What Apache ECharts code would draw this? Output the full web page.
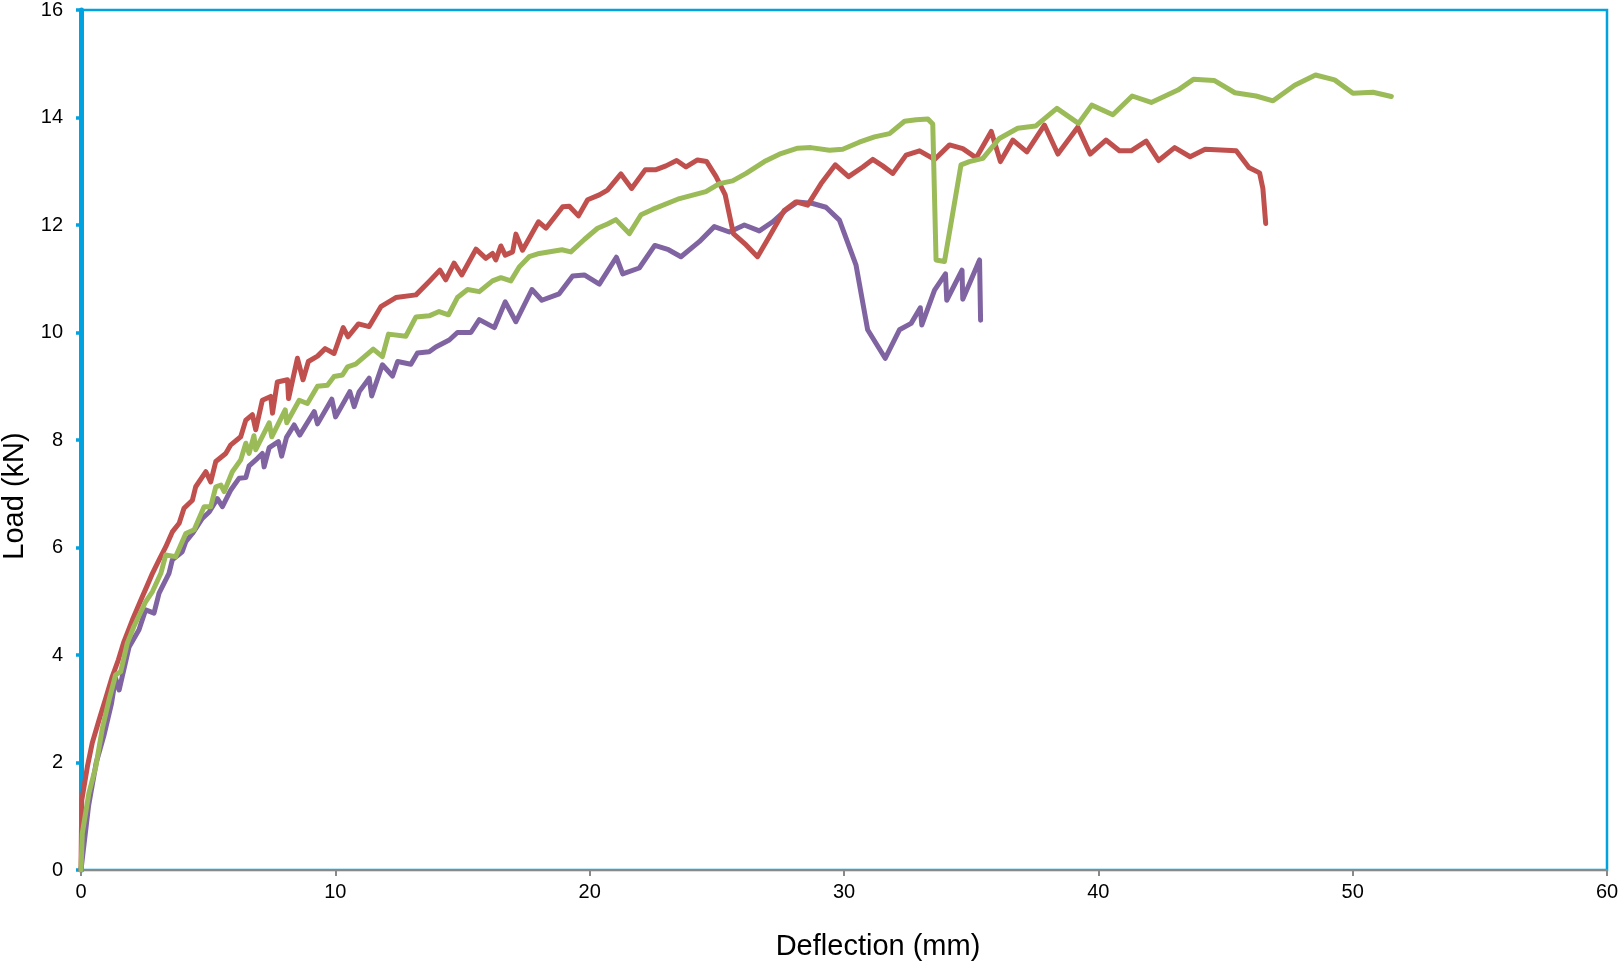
<!DOCTYPE html>
<html>
<head>
<meta charset="utf-8">
<script src="https://cdn.jsdelivr.net/npm/echarts@6/dist/echarts.min.js"></script>
<style>
  html, body { margin: 0; padding: 0; background: #fff; }
  #chart { width: 1618px; height: 965px; }
</style>
</head>
<body>
<div id="chart"></div>
<script>
// deflection (mm) / load (kN)
const redX = [0, 0.03, 0.25, 0.44, 0.71, 0.97, 1.23, 1.47, 1.69, 2.02, 2.35, 2.61, 2.81, 3.07, 3.33, 3.59, 3.86, 4.05, 4.38, 4.51, 4.91, 5.1, 5.3, 5.69, 5.89, 6.28, 6.48, 6.74, 6.87, 7.13, 7.46, 7.53, 7.72, 8.12, 8.16, 8.51, 8.73, 8.94, 9.3, 9.6, 9.95, 10.31, 10.5, 10.91, 11.33, 11.79, 12.38, 13.17, 13.69, 14.11, 14.34, 14.67, 14.97, 15.53, 15.92, 16.18, 16.31, 16.51, 16.68, 16.97, 17.1, 17.36, 17.99, 18.28, 18.94, 19.2, 19.56, 19.92, 20.38, 20.7, 21.23, 21.65, 22.19, 22.61, 23.0, 23.42, 23.79, 24.24, 24.6, 24.97, 25.33, 25.65, 26.15, 26.6, 27.06, 27.65, 28.11, 28.57, 29.1, 29.66, 30.18, 30.74, 31.13, 31.52, 31.92, 32.44, 32.97, 33.56, 34.15, 34.67, 35.2, 35.79, 36.15, 36.64, 37.19, 37.88, 38.41, 39.19, 39.68, 40.3, 40.83, 41.29, 41.88, 42.37, 43.0, 43.61, 44.2, 45.42, 45.92, 46.34, 46.47, 46.58];
const redY = [0, 1.3, 1.92, 2.36, 2.79, 3.19, 3.6, 3.91, 4.25, 4.65, 5.02, 5.3, 5.52, 5.77, 6.01, 6.29, 6.45, 6.73, 6.88, 7.13, 7.41, 7.22, 7.6, 7.75, 7.91, 8.06, 8.37, 8.47, 8.19, 8.74, 8.81, 8.5, 9.08, 9.12, 8.77, 9.52, 9.12, 9.46, 9.56, 9.7, 9.61, 10.09, 9.92, 10.16, 10.11, 10.48, 10.65, 10.7, 10.95, 11.16, 10.98, 11.29, 11.07, 11.55, 11.38, 11.47, 11.35, 11.61, 11.44, 11.5, 11.83, 11.53, 12.06, 11.94, 12.34, 12.35, 12.17, 12.47, 12.56, 12.65, 12.95, 12.68, 13.03, 13.03, 13.1, 13.2, 13.08, 13.21, 13.18, 12.9, 12.56, 11.84, 11.63, 11.41, 11.78, 12.27, 12.43, 12.37, 12.77, 13.12, 12.9, 13.08, 13.22, 13.1, 12.96, 13.3, 13.38, 13.22, 13.49, 13.42, 13.25, 13.74, 13.18, 13.58, 13.36, 13.86, 13.32, 13.82, 13.32, 13.58, 13.38, 13.38, 13.56, 13.2, 13.44, 13.27, 13.41, 13.38, 13.07, 12.97, 12.68, 12.03];

const greenX = [0, 0.05, 0.31, 0.58, 0.84, 1.1, 1.36, 1.56, 1.82, 2.08, 2.54, 2.81, 3.14, 3.33, 3.72, 4.12, 4.45, 4.84, 5.1, 5.3, 5.5, 5.63, 5.95, 6.28, 6.48, 6.61, 6.8, 6.87, 7.4, 7.5, 8.03, 8.09, 8.58, 8.9, 9.3, 9.69, 9.95, 10.28, 10.48, 10.8, 11.49, 11.85, 12.09, 12.77, 13.17, 13.69, 14.08, 14.45, 14.8, 15.2, 15.66, 16.18, 16.51, 16.9, 17.23, 17.62, 18.02, 18.91, 19.26, 19.79, 20.31, 20.7, 21.03, 21.56, 22.02, 22.47, 23.46, 24.57, 25.1, 25.62, 26.15, 26.87, 27.52, 28.18, 28.7, 29.43, 29.95, 30.6, 31.2, 31.79, 32.38, 32.84, 33.3, 33.49, 33.62, 33.95, 34.6, 34.93, 35.46, 36.11, 36.83, 37.53, 38.37, 39.22, 39.74, 40.57, 41.33, 42.08, 43.13, 43.74, 44.55, 45.37, 46.2, 46.87, 47.72, 48.54, 49.29, 50.01, 50.8, 51.52];
const greenY = [0, 0.68, 1.43, 1.92, 2.64, 3.16, 3.63, 3.69, 4.22, 4.53, 4.99, 5.18, 5.52, 5.86, 5.83, 6.26, 6.33, 6.76, 6.76, 7.13, 7.16, 7.04, 7.41, 7.63, 7.94, 7.75, 8.08, 7.82, 8.32, 8.06, 8.56, 8.32, 8.74, 8.68, 9.0, 9.02, 9.18, 9.21, 9.36, 9.41, 9.69, 9.55, 9.97, 9.93, 10.29, 10.31, 10.39, 10.33, 10.65, 10.8, 10.76, 10.96, 11.02, 10.96, 11.22, 11.41, 11.47, 11.54, 11.5, 11.73, 11.94, 12.02, 12.1, 11.84, 12.19, 12.29, 12.48, 12.62, 12.77, 12.82, 12.96, 13.18, 13.33, 13.43, 13.44, 13.39, 13.41, 13.54, 13.64, 13.7, 13.93, 13.96, 13.97, 13.88, 11.35, 11.32, 13.12, 13.18, 13.24, 13.61, 13.8, 13.84, 14.17, 13.89, 14.23, 14.05, 14.4, 14.28, 14.51, 14.71, 14.69, 14.46, 14.4, 14.31, 14.6, 14.79, 14.7, 14.45, 14.47, 14.39];

const purpleX = [0, 0.3, 0.6, 0.9, 1.2, 1.36, 1.5, 1.89, 2.28, 2.54, 2.87, 3.07, 3.46, 3.59, 3.98, 4.12, 4.38, 4.77, 5.04, 5.36, 5.56, 5.89, 6.22, 6.48, 6.61, 6.94, 7.13, 7.2, 7.4, 7.76, 7.89, 8.08, 8.38, 8.6, 9.17, 9.3, 9.86, 10.01, 10.57, 10.74, 10.94, 11.33, 11.43, 11.85, 12.25, 12.45, 12.97, 13.23, 13.69, 13.95, 14.48, 14.8, 15.33, 15.66, 16.25, 16.68, 17.1, 17.73, 18.12, 18.8, 19.33, 19.79, 20.38, 21.05, 21.3, 21.95, 22.56, 23.1, 23.59, 24.31, 24.9, 25.49, 26.08, 26.67, 27.2, 27.72, 28.18, 28.77, 29.29, 29.82, 30.47, 30.93, 31.62, 32.18, 32.64, 33.0, 33.06, 33.56, 33.99, 34.04, 34.64, 34.67, 35.33, 35.37];
const purpleY = [0, 1.2, 2.0, 2.5, 3.1, 3.57, 3.35, 4.15, 4.47, 4.84, 4.78, 5.15, 5.52, 5.77, 5.92, 6.11, 6.26, 6.54, 6.66, 6.91, 6.76, 7.07, 7.29, 7.3, 7.52, 7.66, 7.75, 7.5, 7.86, 7.97, 7.7, 8.05, 8.28, 8.09, 8.53, 8.3, 8.76, 8.43, 8.9, 8.62, 8.9, 9.15, 8.82, 9.4, 9.19, 9.46, 9.41, 9.62, 9.64, 9.73, 9.86, 10.0, 10.0, 10.24, 10.09, 10.57, 10.2, 10.8, 10.6, 10.72, 11.05, 11.07, 10.9, 11.4, 11.09, 11.2, 11.62, 11.54, 11.41, 11.69, 11.97, 11.87, 12.0, 11.89, 12.06, 12.28, 12.43, 12.4, 12.33, 12.09, 11.26, 10.05, 9.52, 10.05, 10.17, 10.46, 10.14, 10.79, 11.09, 10.6, 11.16, 10.62, 11.35, 10.23];

const xTicks = [0, 10, 20, 30, 40, 50, 60];
const yTicks = [0, 2, 4, 6, 8, 10, 12, 14, 16];

const pairs = (xs, ys) => xs.map((x, i) => [x, ys[i]]);

const chart = echarts.init(document.getElementById('chart'));
const blue = '#00A3E0';
const font = "'Liberation Sans', Arial, sans-serif";

const lineSeries = (name, color, xs, ys) => ({
  name: name,
  type: 'line',
  data: pairs(xs, ys),
  showSymbol: false,
  symbol: 'none',
  smooth: false,
  lineStyle: { color: color, width: 5, cap: 'round', join: 'round' }
});

chart.setOption({
  animation: false,
  textStyle: { fontFamily: font },
  grid: {
    left: 81, right: 11, top: 10, bottom: 95,
    show: true,
    borderColor: blue,
    borderWidth: 2.5,
    containLabel: false,
    outerBoundsMode: 'none'
  },
  xAxis: {
    type: 'value',
    min: xTicks[0],
    max: xTicks[xTicks.length - 1],
    interval: 10,
    name: 'Deflection (mm)',
    nameLocation: 'middle',
    nameGap: 62,
    nameTextStyle: { fontSize: 29, color: '#000', fontFamily: font, padding: [0, 0, 0, 68] },
    axisLine: { show: true, lineStyle: { color: '#898989', width: 2 } },
    axisTick: { show: true, length: 6, lineStyle: { color: '#898989', width: 2 } },
    axisLabel: { fontSize: 20, color: '#000', margin: 12 },
    splitLine: { show: false }
  },
  yAxis: {
    type: 'value',
    min: yTicks[0],
    max: yTicks[yTicks.length - 1],
    interval: 2,
    name: 'Load (kN)',
    nameLocation: 'middle',
    nameGap: 46,
    nameTextStyle: { fontSize: 29, color: '#000', fontFamily: font, padding: [0, 112, 0, 0] },
    axisLine: { show: true, lineStyle: { color: blue, width: 5 } },
    axisTick: { show: true, length: 5, lineStyle: { color: blue, width: 3.5 } },
    axisLabel: { fontSize: 20, color: '#000', margin: 18 },
    splitLine: { show: false }
  },
  series: [
    lineSeries('Purple', '#8064A2', purpleX, purpleY),
    lineSeries('Red', '#C0504D', redX, redY),
    lineSeries('Green', '#9BBB59', greenX, greenY)
  ]
});
</script>
</body>
</html>
